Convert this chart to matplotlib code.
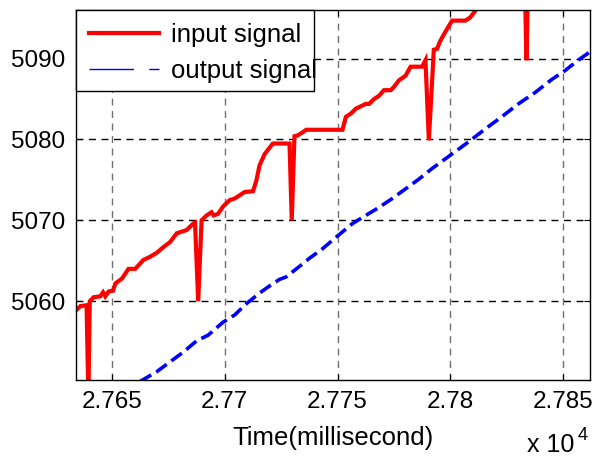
import numpy as np
import matplotlib
matplotlib.use("Agg")
import matplotlib.pyplot as plt
from matplotlib.lines import Line2D
from matplotlib.patches import Rectangle
from matplotlib.ticker import FuncFormatter

plt.rcParams['font.family'] = ['Liberation Sans', 'DejaVu Sans']

# input signal (time in ms, value)
t_in = [27634.1, 27636.0, 27638.7, 27639.5, 27640.1, 27641.9, 27644.8, 27646.0, 27647.0,
        27648.5, 27650.4, 27651.5, 27654.4, 27657.3, 27660.3, 27663.9, 27666.9, 27669.9,
        27672.8, 27675.7, 27678.7, 27683.1, 27686.0, 27686.8, 27688.2, 27689.7, 27691.9,
        27694.1, 27695.1, 27697.0, 27699.2, 27702.2, 27704.4, 27706.6, 27708.8, 27712.5,
        27714.0, 27715.4, 27717.7, 27721.3, 27728.7, 27729.7, 27730.9, 27732.3, 27734.6,
        27736.1, 27752.2, 27753.7, 27755.9, 27758.1, 27760.3, 27762.5, 27764.0, 27766.2,
        27768.4, 27770.6, 27773.6, 27775.0, 27777.2, 27780.2, 27782.4, 27787.5, 27789.0,
        27790.5, 27792.7, 27794.1, 27795.6, 27797.8, 27800.8, 27806.7, 27808.9, 27811.8,
        27818.0, 27826.0, 27833.0, 27833.8, 27834.6, 27845.0, 27862.0]
v_in = [5058.9, 5059.4, 5059.5, 5048.0, 5060.0, 5060.5, 5060.6, 5061.1, 5060.6,
        5061.2, 5061.3, 5062.2, 5062.8, 5064.0, 5064.0, 5065.1, 5065.5, 5066.0,
        5066.7, 5067.3, 5068.4, 5068.8, 5069.6, 5069.7, 5060.0, 5070.0, 5070.6,
        5071.0, 5070.6, 5070.8, 5071.7, 5072.5, 5072.7, 5073.1, 5073.5, 5073.6,
        5074.9, 5076.8, 5078.2, 5079.5, 5079.5, 5070.0, 5080.4, 5080.5, 5080.9,
        5081.2, 5081.2, 5082.8, 5083.2, 5083.8, 5084.1, 5084.4, 5084.4, 5085.0,
        5085.4, 5086.1, 5086.1, 5086.5, 5087.3, 5087.9, 5089.0, 5089.0, 5089.8,
        5079.9, 5091.1, 5091.2, 5092.2, 5093.3, 5094.7, 5094.7, 5095.1, 5096.2,
        5097.5, 5099.0, 5100.0, 5089.8, 5100.2, 5101.5, 5103.5]

# output signal
t_out = [27655.0, 27663.2, 27669.9, 27675.7, 27681.6, 27687.5, 27692.6, 27699.2, 27704.4,
         27709.6, 27715.4, 27719.9, 27724.3, 27727.2, 27733.1, 27737.5, 27743.4, 27749.3,
         27756.6, 27762.5, 27768.4, 27774.3, 27780.2, 27786.1, 27791.9, 27797.8, 27808.1,
         27815.5, 27822.8, 27830.2, 27837.6, 27844.9, 27850.8, 27856.7, 27861.8]
v_out = [5049.0, 5050.2, 5051.3, 5052.5, 5053.7, 5055.1, 5055.8, 5057.4, 5058.3,
         5059.7, 5061.0, 5061.9, 5062.7, 5063.0, 5064.3, 5065.3, 5066.5, 5067.9,
         5069.6, 5070.6, 5071.6, 5072.7, 5073.9, 5075.1, 5076.4, 5077.6, 5079.7,
         5081.3, 5082.8, 5084.4, 5085.8, 5087.4, 5088.5, 5089.8, 5090.8]

xticks = [27650, 27700, 27750, 27800, 27850]
yticks = [5060, 5070, 5080, 5090]

fig = plt.figure(figsize=(5.95, 4.59), dpi=100)
ax = fig.add_axes([0.1277, 0.172, 0.864, 0.806])

ax.plot(t_in, v_in, color='red', lw=3.0, solid_joinstyle='miter')
ax.plot(t_out, v_out, color='blue', lw=2.6, dashes=(3.6, 1.6))

ax.set_xlim(27634, 27862)
ax.set_ylim(5050.25, 5096)
ax.set_xticks(xticks)
ax.set_yticks(yticks)
ax.xaxis.set_major_formatter(FuncFormatter(lambda v, p: '%g' % (v / 1e4)))
ax.tick_params(direction='in', length=4, labelsize=17.5, top=True, right=True, pad=8)
for s in ax.spines.values():
    s.set_linewidth(1.0)

for x in xticks:
    ax.axvline(x, color='#707070', lw=1.0, dashes=(5, 4), zorder=0.5)
for y in yticks:
    ax.axhline(y, color='black', lw=1.0, dashes=(5, 4), zorder=0.5)

ax.set_xlabel('Time(millisecond)', fontsize=18.5, labelpad=9)
# MATLAB-style exponent label
ax.text(0.969, -0.195, 'x 10', transform=ax.transAxes, ha='right', va='baseline',
        fontsize=18)
ax.text(0.975, -0.163, '4', transform=ax.transAxes, ha='left', va='baseline',
        fontsize=13)

# legend box (text slightly overflows the frame, as in the original)
ax.add_patch(Rectangle((0, 0.781), 0.463, 0.219, transform=ax.transAxes,
                       facecolor='white', edgecolor='black', lw=1.0, zorder=4,
                       clip_on=False))
handles = [Line2D([], [], color='red', lw=3.0),
           Line2D([], [], color='blue', lw=1.0, dashes=(32, 11))]
leg = ax.legend(handles, ['input signal', 'output signal'], loc='upper left',
                borderaxespad=0, fontsize=18.5, handlelength=2.72, handletextpad=0.47,
                frameon=False, borderpad=0.5, labelspacing=0.45)
leg.set_zorder(5)

fig.savefig('out.png', dpi=100)
